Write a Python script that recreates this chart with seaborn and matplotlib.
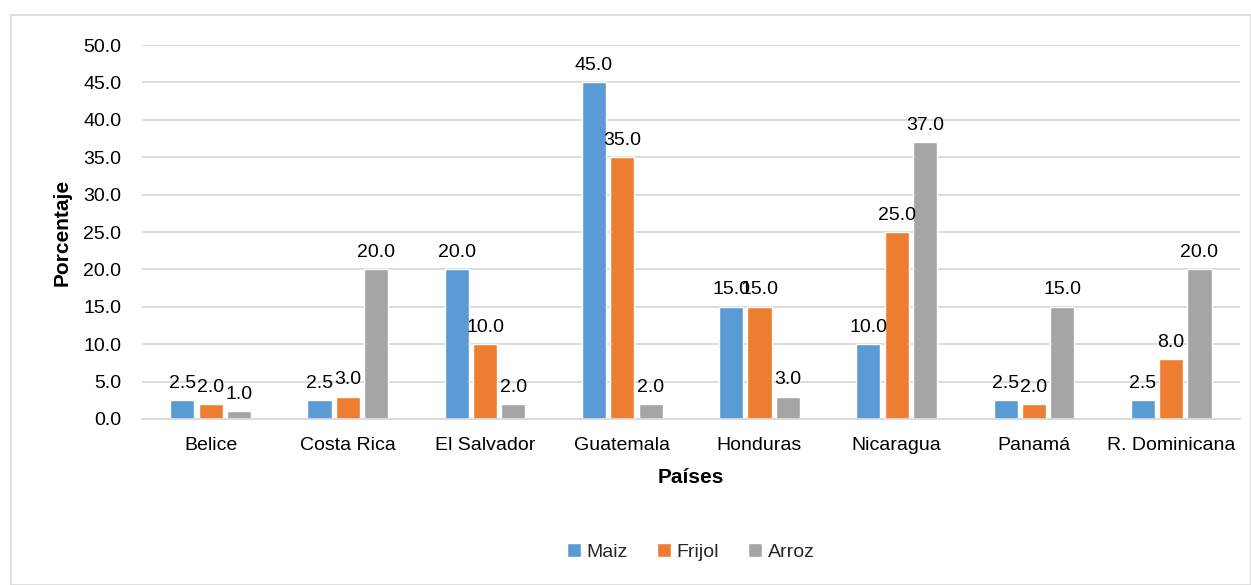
import pandas as pd
import numpy as np
import matplotlib.pyplot as plt
import seaborn as sns
from matplotlib.patches import Rectangle

paises = ['Belice', 'Costa Rica', 'El Salvador', 'Guatemala', 'Honduras',
          'Nicaragua', 'Panamá', 'R. Dominicana']
maiz = [2.5, 2.5, 20.0, 45.0, 15.0, 10.0, 2.5, 2.5]
frijol = [2.0, 3.0, 10.0, 35.0, 15.0, 25.0, 2.0, 8.0]
arroz = [1.0, 20.0, 2.0, 2.0, 3.0, 37.0, 15.0, 20.0]
cultivos = ['Maiz', 'Frijol', 'Arroz']
colores = ['#5B9BD5', '#ED7D31', '#A5A5A5']

df = pd.DataFrame({'pais': paises * 3,
                   'cultivo': np.repeat(cultivos, len(paises)),
                   'valor': maiz + frijol + arroz})

sns.set_theme(style='white')
plt.rcParams['font.family'] = ['Liberation Sans', 'DejaVu Sans']

fig = plt.figure(figsize=(12.51, 5.85), dpi=100)
ax = fig.add_axes([0.1135, 0.2838, 0.8775, 0.6392])
# light border around the whole chart, like the spreadsheet frame
fig.patches.append(Rectangle((11 / 1251, 0), 1 - 11 / 1251, 1 - 15 / 585,
                             transform=fig.transFigure, fill=False,
                             edgecolor='#D9D9D9', linewidth=1.2))

sns.barplot(data=df, x='pais', y='valor', hue='cultivo', palette=colores,
            saturation=1, width=0.62, gap=0.15, ax=ax, legend=True)

for cont in ax.containers:
    ax.bar_label(cont, fmt='%.1f', padding=6, fontsize=14, color='#000000')

ax.set_ylim(0, 50)
ax.set_yticks(np.arange(0, 51, 5))
ax.set_yticklabels([f'{v:.1f}' for v in np.arange(0, 51, 5)])
ax.yaxis.grid(True, color='#D9D9D9', linewidth=1.3)
ax.set_axisbelow(True)
for s in ['top', 'right', 'left']:
    ax.spines[s].set_visible(False)
ax.spines['bottom'].set_color('#D9D9D9')
ax.spines['bottom'].set_linewidth(1.3)
ax.tick_params(axis='both', labelsize=14, length=0, colors='#000000')
ax.tick_params(axis='x', pad=13)
ax.tick_params(axis='y', pad=15)
ax.set_xlabel('Países', fontsize=15, fontweight='bold', labelpad=10, color='#000000')
ax.set_ylabel('Porcentaje', fontsize=15, fontweight='bold', labelpad=8, color='#000000')

ax.legend(loc='center', bbox_to_anchor=(0.5, -0.356), ncol=3, frameon=False,
          fontsize=14, handlelength=0.7, handleheight=0.7, handletextpad=0.3,
          columnspacing=1.5)

fig.savefig('out.png', dpi=100)
